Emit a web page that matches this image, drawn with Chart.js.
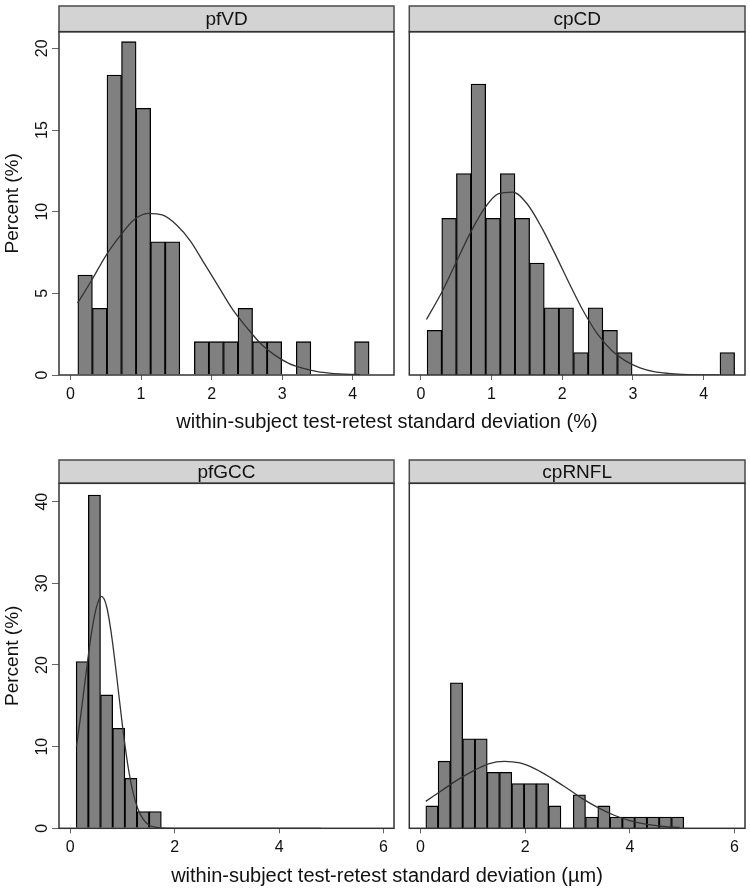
<!DOCTYPE html>
<html>
<head>
<meta charset="utf-8">
<script src="https://cdn.jsdelivr.net/npm/chart.js@4.4.1/dist/chart.umd.min.js"></script>
<style>
  body { margin: 0; background: #fff; width: 750px; height: 888px; position: relative; overflow: hidden;
         font-family: Arial, "Liberation Sans", sans-serif; }
  canvas { position: absolute; }
  .xtitle { position: absolute; left: 0; width: 774px; text-align: center; font-size: 20px;
            line-height: 22px; color: #111; }
</style>
</head>
<body>
<canvas id="pfvd" width="400" height="440" style="left:0;top:0"></canvas>
<canvas id="cpcd" width="350" height="440" style="left:400px;top:0"></canvas>
<canvas id="pfgcc" width="400" height="448" style="left:0;top:440px"></canvas>
<canvas id="cprnfl" width="350" height="448" style="left:400px;top:440px"></canvas>
<div class="xtitle" style="top:410px">within-subject test-retest standard deviation (%)</div>
<div class="xtitle" style="top:864px">within-subject test-retest standard deviation (µm)</div>

<script>
// histogram values (percent per bin)
const pfvdStart = 0.104, pfvdWidth = 0.2064;
const pfvdPct = [6.12, 4.08, 18.37, 20.41, 16.33, 8.16, 8.16, 0, 2.04, 2.04,
                 2.04, 4.08, 2.04, 2.04, 0, 2.04, 0, 0, 0, 2.04];

const cpcdStart = 0.089, cpcdWidth = 0.2071;
const cpcdPct = [2.74, 9.59, 12.33, 17.81, 9.59, 12.33, 9.59, 6.85, 4.11, 4.11,
                 1.37, 4.11, 2.74, 1.37, 0, 0, 0, 0, 0, 0, 1.37];

const pfgccStart = 0.115, pfgccWidth = 0.2329;
const pfgccPct = [20.41, 40.82, 16.33, 12.24, 6.12, 2.04, 2.04];

const cprnflStart = 0.1015, cprnflWidth = 0.2347;
const cprnflPct = [2.74, 8.22, 17.81, 10.96, 10.96, 6.85, 6.85, 5.48, 5.48, 5.48,
                   2.74, 0, 4.11, 1.37, 2.74, 1.37, 1.37, 1.37, 1.37, 1.37, 1.37];

// normal curves
const pfvdCurveX = [0.10, 0.3, 0.5, 0.7, 0.9, 1.1, 1.3, 1.5, 1.7, 1.9, 2.1, 2.3, 2.5, 2.7, 2.9, 3.1, 3.3, 3.5, 3.7, 3.9, 4.1];
const pfvdCurveY = [4.4, 5.8, 7.3, 8.5, 9.5, 9.9, 9.8, 9.2, 8.2, 6.8, 5.4, 4.0, 2.9, 1.9, 1.2, 0.7, 0.4, 0.2, 0.1, 0.05, 0.02];

const cpcdCurveX = [0.08, 0.3, 0.5, 0.7, 0.9, 1.1, 1.3, 1.5, 1.7, 1.9, 2.1, 2.3, 2.5, 2.7, 2.9, 3.1, 3.3, 3.5, 3.7, 3.9, 4.22];
const cpcdCurveY = [3.4, 5.1, 6.9, 8.7, 10.2, 11.1, 11.2, 10.5, 9.1, 7.4, 5.6, 3.9, 2.5, 1.5, 0.85, 0.44, 0.21, 0.1, 0.04, 0.01, 0];

const pfgccCurveX = [0.12, 0.2, 0.3, 0.4, 0.5, 0.6, 0.7, 0.8, 0.9, 1.0, 1.1, 1.2, 1.3, 1.4, 1.5, 1.6, 1.8, 2.0, 3.0, 4.0, 4.8];
const pfgccCurveY = [10.0, 13.7, 18.8, 23.6, 27.0, 28.4, 27.1, 23.3, 18.1, 12.6, 7.9, 4.5, 2.3, 1.1, 0.44, 0.16, 0.01, 0, 0, 0, 0];

const cprnflCurveX = [0.1, 0.4, 0.7, 1.0, 1.3, 1.6, 1.9, 2.2, 2.5, 2.8, 3.1, 3.4, 3.7, 4.0, 4.3, 4.6, 4.95];
const cprnflCurveY = [3.3, 4.6, 5.9, 7.0, 7.9, 8.2, 8.0, 7.25, 6.15, 4.9, 3.6, 2.5, 1.6, 0.95, 0.5, 0.25, 0.1];

// axes
const xTicksTop = [0, 1, 2, 3, 4];
const yTicksTop = [0, 5, 10, 15, 20];
const xTicksBottom = [0, 2, 4, 6];
const yTicksBottom = [0, 10, 20, 30, 40];

Chart.defaults.font.family = 'Arial, "Liberation Sans", sans-serif';
Chart.defaults.color = "#111";

function bins(start, width, pct) {
  return pct.map((v, i) => ({ x: start + (i + 0.5) * width, y: v > 0 ? v : null }));
}

function curve(xs, ys) {
  return xs.map((x, i) => ({ x: x, y: ys[i] }));
}

// strip header, panel box and rotated y labels
function frame(label, stripTop, yLabels) {
  return {
    id: "frame",
    afterDraw(chart) {
      const ctx = chart.ctx;
      const a = chart.chartArea;
      ctx.save();
      ctx.fillStyle = "#d3d3d3";
      ctx.fillRect(a.left, stripTop, a.right - a.left, a.top - stripTop);
      ctx.strokeStyle = "#4a4a4a";
      ctx.lineWidth = 1.5;
      ctx.strokeRect(a.left, stripTop, a.right - a.left, a.top - stripTop);
      ctx.strokeStyle = "#333";
      ctx.strokeRect(a.left, a.top, a.right - a.left, a.bottom - a.top);
      ctx.fillStyle = "#111";
      ctx.font = '19px Arial, "Liberation Sans", sans-serif';
      ctx.textAlign = "center";
      ctx.textBaseline = "middle";
      ctx.fillText(label, (a.left + a.right) / 2, (stripTop + a.top) / 2 + 1);
      if (yLabels) {
        const ys = chart.scales.y;
        ctx.font = '16px Arial, "Liberation Sans", sans-serif';
        ctx.textBaseline = "alphabetic";
        ys.ticks.forEach((t) => {
          ctx.save();
          ctx.translate(47, ys.getPixelForValue(t.value));
          ctx.rotate(-Math.PI / 2);
          ctx.fillText(String(t.value), 0, 0);
          ctx.restore();
        });
      }
      ctx.restore();
    },
  };
}

function panel(id, cfg) {
  const ctx = document.getElementById(id).getContext("2d");
  return new Chart(ctx, {
    type: "bar",
    data: {
      datasets: [
        {
          type: "line",
          data: cfg.curve,
          borderColor: "#333",
          borderWidth: 1.3,
          pointRadius: 0,
          cubicInterpolationMode: "monotone",
          fill: false,
          order: 0,
        },
        {
          data: cfg.bars,
          backgroundColor: "#808080",
          borderColor: "#000",
          borderWidth: 1.3,
          barPercentage: 1,
          categoryPercentage: 1,
          order: 1,
        },
      ],
    },
    options: {
      responsive: false,
      animation: false,
      layout: { padding: cfg.padding },
      plugins: { legend: { display: false }, tooltip: { enabled: false } },
      scales: {
        x: {
          type: "linear",
          offset: false,
          min: cfg.xMin,
          max: cfg.xMax,
          afterBuildTicks: (s) => { s.ticks = cfg.xTicks.map((v) => ({ value: v })); },
          afterFit: (s) => { s.height = cfg.xHeight; },
          grid: { drawOnChartArea: false, color: "#666", tickLength: 5, offset: false },
          border: { display: false },
          ticks: { font: { size: 16 }, padding: 5, maxRotation: 0 },
        },
        y: {
          display: cfg.left,
          min: 0,
          max: cfg.yMax,
          afterBuildTicks: (s) => { s.ticks = cfg.yTicks.map((v) => ({ value: v })); },
          afterFit: (s) => { s.width = cfg.left ? 59 : 0; },
          grid: { drawOnChartArea: false, color: "#666", tickLength: 7 },
          border: { display: false },
          ticks: { display: false },
          title: { display: true, text: "Percent (%)", font: { size: 19 }, padding: { top: 1, bottom: 0 } },
        },
      },
    },
    plugins: [frame(cfg.label, cfg.stripTop, cfg.left)],
  });
}

const pfvdChart = panel("pfvd", {
  label: "pfVD", left: true, stripTop: 6,
  bars: bins(pfvdStart, pfvdWidth, pfvdPct), curve: curve(pfvdCurveX, pfvdCurveY),
  xMin: -0.163, xMax: 4.585, xTicks: xTicksTop, yMax: 21.02, yTicks: yTicksTop,
  padding: { top: 31.7, left: 0, right: 6, bottom: 0 }, xHeight: 65,
});

const cpcdChart = panel("cpcd", {
  label: "cpCD", left: false, stripTop: 6,
  bars: bins(cpcdStart, cpcdWidth, cpcdPct), curve: curve(cpcdCurveX, cpcdCurveY),
  xMin: -0.163, xMax: 4.585, xTicks: xTicksTop, yMax: 21.02, yTicks: yTicksTop,
  padding: { top: 31.7, left: 9.3, right: 5, bottom: 0 }, xHeight: 65,
});

const pfgccChart = panel("pfgcc", {
  label: "pfGCC", left: true, stripTop: 20,
  bars: bins(pfgccStart, pfgccWidth, pfgccPct), curve: curve(pfgccCurveX, pfgccCurveY),
  xMin: -0.214, xMax: 6.2, xTicks: xTicksBottom, yMax: 42.25, yTicks: yTicksBottom,
  padding: { top: 43.3, left: 0, right: 6, bottom: 0 }, xHeight: 59.7,
});

const cprnflChart = panel("cprnfl", {
  label: "cpRNFL", left: false, stripTop: 20,
  bars: bins(cprnflStart, cprnflWidth, cprnflPct), curve: curve(cprnflCurveX, cprnflCurveY),
  xMin: -0.214, xMax: 6.2, xTicks: xTicksBottom, yMax: 42.25, yTicks: yTicksBottom,
  padding: { top: 43.3, left: 9.3, right: 5, bottom: 0 }, xHeight: 59.7,
});
</script>
</body>
</html>
